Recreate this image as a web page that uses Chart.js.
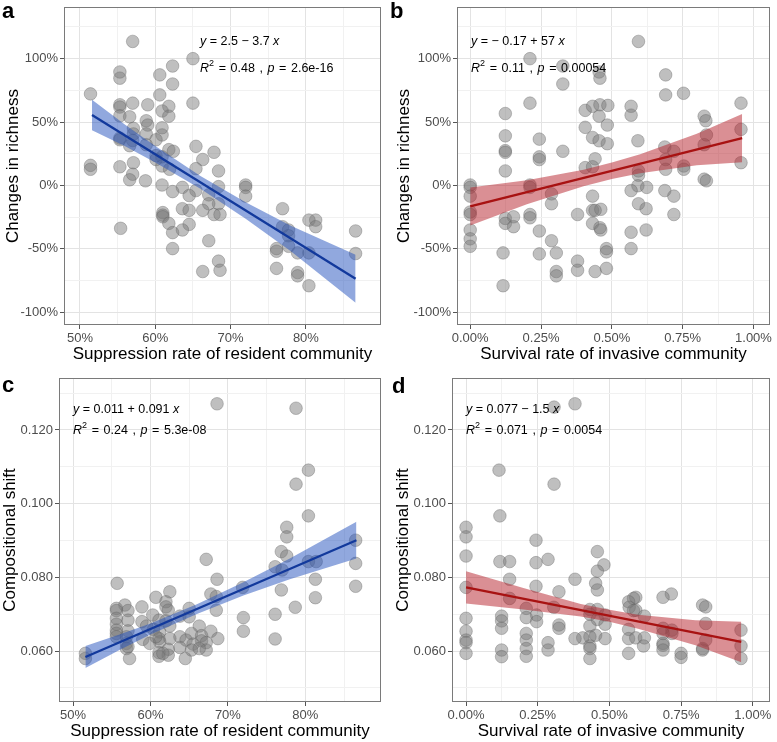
<!DOCTYPE html>
<html><head><meta charset="utf-8">
<script src="https://cdn.jsdelivr.net/npm/chart.js@4.4.1/dist/chart.umd.min.js"></script>
<style>
html,body{margin:0;padding:0;background:#fff;}
#wrap{position:relative;width:777px;height:742px;background:#fff;overflow:hidden;}
canvas{position:absolute;}
</style></head><body>
<div id="wrap">
<canvas id="pa" width="388" height="370" style="left:0;top:0"></canvas>
<canvas id="pb" width="389" height="370" style="left:388px;top:0"></canvas>
<canvas id="pc" width="388" height="372" style="left:0;top:370px"></canvas>
<canvas id="pd" width="389" height="372" style="left:388px;top:370px"></canvas>
</div>
<script>
// ---------- Panel a: suppression rate vs change in richness ----------
const suppA = [0.570,0.650,0.623,0.553,0.553,0.606,0.623,0.514,0.606,0.570,0.590,0.650,0.553,0.553,0.618,0.609,0.618,0.553,0.566,0.588,
0.590,0.571,0.609,0.571,0.588,0.609,0.553,0.553,0.601,0.570,0.566,0.588,0.654,0.618,0.624,0.678,0.601,0.609,0.601,0.663,
0.609,0.571,0.514,0.514,0.553,0.619,0.654,0.684,0.570,0.566,0.587,0.609,0.720,0.720,0.636,0.684,0.623,0.654,0.645,0.720,
0.671,0.684,0.671,0.636,0.645,0.663,0.769,0.678,0.686,0.610,0.610,0.610,0.813,0.804,0.618,0.645,0.813,0.769,0.554,0.636,
0.866,0.623,0.777,0.777,0.777,0.671,0.761,0.761,0.623,0.789,0.804,0.866,0.684,0.686,0.663,0.761,0.789,0.789,0.804];
const richA = [1.136,1.000,0.942,0.895,0.846,0.872,0.800,0.722,0.714,0.649,0.636,0.649,0.636,0.618,0.624,0.587,0.546,0.549,0.541,0.510,
0.476,0.450,0.455,0.406,0.406,0.398,0.373,0.360,0.360,0.354,0.313,0.321,0.308,0.282,0.269,0.261,0.235,0.225,0.204,0.204,
0.153,0.179,0.158,0.127,0.147,0.127,0.132,0.114,0.088,0.044,0.036,0.003,0.003,-0.016,-0.016,-0.010,-0.049,-0.041,-0.080,-0.085,
-0.075,-0.145,-0.145,-0.184,-0.197,-0.197,-0.184,-0.230,-0.230,-0.215,-0.235,-0.248,-0.274,-0.274,-0.300,-0.308,-0.326,-0.326,-0.339,-0.352,
-0.360,-0.373,-0.352,-0.398,-0.481,-0.437,-0.499,-0.520,-0.499,-0.533,-0.533,-0.538,-0.598,-0.670,-0.680,-0.655,-0.688,-0.714,-0.792];
const fitAx = [0.516, 0.866];
const fitAy = [0.555, -0.737];
const bandAx = [0.516, 0.56, 0.60, 0.66, 0.72, 0.78, 0.866];
const bandAlo = [0.435, 0.308, 0.180, -0.026, -0.263, -0.519, -0.927];
const bandAhi = [0.675, 0.478, 0.310, 0.074, -0.133, -0.319, -0.547];

// ---------- Panel b: survival rate vs change in richness ----------
const survB = [0.594,0.211,0.327,0.455,0.458,0.690,0.327,0.690,0.753,0.211,0.956,0.406,0.432,0.458,0.486,0.568,0.568,0.124,0.455,0.826,
0.832,0.484,0.406,0.956,0.124,0.834,0.432,0.244,0.455,0.592,0.484,0.826,0.687,0.124,0.327,0.719,0.124,0.244,0.244,0.441,
0.690,0.406,0.432,0.754,0.754,0.690,0.594,0.124,0.594,0.956,0.826,0.834,0.000,0.000,0.211,0.211,0.592,0.623,0.568,0.687,
0.000,0.287,0.719,0.432,0.287,0.594,0.432,0.461,0.441,0.621,0.000,0.000,0.211,0.211,0.379,0.719,0.124,0.153,0.124,0.153,
0.432,0.458,0.461,0.000,0.244,0.621,0.568,0.000,0.287,0.000,0.568,0.481,0.481,0.116,0.244,0.304,0.379,0.379,0.441,0.481,
0.304,0.304,0.116];
const richB = [1.136,1.000,0.942,0.895,0.846,0.872,0.800,0.714,0.727,0.649,0.649,0.592,0.624,0.636,0.631,0.624,0.554,0.567,0.546,0.546,
0.510,0.476,0.458,0.442,0.391,0.398,0.378,0.365,0.352,0.352,0.329,0.321,0.303,0.274,0.269,0.269,0.261,0.225,0.204,0.210,
0.204,0.140,0.147,0.153,0.127,0.127,0.114,0.114,0.080,0.179,0.049,0.036,0.003,-0.016,0.003,-0.016,-0.003,-0.016,-0.041,-0.041,
-0.085,-0.067,-0.085,-0.085,-0.145,-0.145,-0.197,-0.189,-0.197,-0.184,-0.210,-0.230,-0.230,-0.256,-0.230,-0.230,-0.261,-0.248,-0.300,-0.326,
-0.300,-0.334,-0.352,-0.352,-0.360,-0.352,-0.370,-0.422,-0.437,-0.481,-0.499,-0.499,-0.525,-0.533,-0.541,-0.533,-0.598,-0.670,-0.680,-0.655,
-0.680,-0.714,-0.792];
const fitBx = [0, 0.96];
const fitBy = [-0.166, 0.373];
const bandBx = [0, 0.2, 0.4, 0.5, 0.6, 0.8, 0.96];
const bandBlo = [-0.316, -0.149, -0.006, 0.050, 0.096, 0.158, 0.183];
const bandBhi = [-0.016, 0.041, 0.124, 0.180, 0.246, 0.408, 0.563];

// ---------- Panel c: suppression rate vs compositional shift ----------
const suppC = [0.686,0.788,0.804,0.788,0.804,0.776,0.776,0.865,0.769,0.776,0.672,0.804,0.814,0.865,0.761,0.770,0.686,0.813,0.557,0.865,
0.719,0.769,0.625,0.678,0.685,0.813,0.607,0.620,0.567,0.620,0.589,0.787,0.556,0.556,0.571,0.685,0.650,0.623,0.603,0.638,
0.650,0.720,0.761,0.556,0.571,0.589,0.611,0.620,0.556,0.663,0.595,0.625,0.604,0.556,0.571,0.720,0.678,0.612,0.556,0.653,
0.666,0.556,0.569,0.638,0.611,0.625,0.687,0.761,0.590,0.646,0.666,0.569,0.655,0.672,0.612,0.638,0.569,0.623,0.611,0.653,
0.672,0.663,0.623,0.645,0.573,0.516,0.516,0.611,0.616,0.571,0.599,0.607];
const shiftC = [0.1271,0.1259,0.1091,0.1053,0.0967,0.0936,0.0910,0.0901,0.0870,0.0858,0.0849,0.0843,0.0843,0.0838,0.0829,0.0820,0.0795,0.0795,0.0784,0.0776,
0.0773,0.0766,0.0761,0.0755,0.0748,0.0745,0.0746,0.0734,0.0725,0.0720,0.0720,0.0719,0.0716,0.0710,0.0710,0.0711,0.0716,0.0711,0.0698,0.0695,
0.0693,0.0691,0.0700,0.0689,0.0684,0.0680,0.0684,0.0682,0.0673,0.0668,0.0668,0.0668,0.0659,0.0657,0.0655,0.0654,0.0654,0.0652,0.0648,0.0648,
0.0642,0.0639,0.0639,0.0639,0.0634,0.0634,0.0634,0.0633,0.0632,0.0630,0.0628,0.0621,0.0619,0.0623,0.0625,0.0610,0.0607,0.0605,0.0596,0.0603,
0.0603,0.0607,0.0589,0.0580,0.0580,0.0594,0.0580,0.0586,0.0594,0.0612,0.0621,0.0639];
const fitCx = [0.516, 0.866];
const fitCy = [0.0584, 0.0901];
const bandCx = [0.516, 0.56, 0.60, 0.66, 0.72, 0.78, 0.866];
const bandClo = [0.0554, 0.0603, 0.0645, 0.0701, 0.0751, 0.0795, 0.0851];
const bandChi = [0.0614, 0.0645, 0.0675, 0.0727, 0.0787, 0.0851, 0.0951];

// ---------- Panel d: survival rate vs compositional shift ----------
const survD = [0.380,0.307,0.115,0.307,0.118,0.000,0.000,0.244,0.000,0.458,0.481,0.118,0.152,0.244,0.286,0.458,0.152,0.380,0.452,0.244,
0.000,0.458,0.324,0.716,0.687,0.592,0.584,0.152,0.567,0.825,0.836,0.306,0.210,0.432,0.458,0.569,0.592,0.584,0.246,0.210,
0.124,0.000,0.432,0.485,0.124,0.246,0.458,0.622,0.836,0.485,0.324,0.324,0.124,0.432,0.567,0.687,0.718,0.718,0.687,0.000,
0.959,0.452,0.432,0.407,0.380,0.485,0.567,0.592,0.622,0.210,0.210,0.000,0.000,0.836,0.286,0.687,0.687,0.619,0.432,0.959,
0.210,0.124,0.286,0.432,0.825,0.687,0.000,0.567,0.750,0.750,0.124,0.210,0.432,0.959,0.825];
const shiftD = [0.1271,0.1262,0.1091,0.1053,0.0967,0.0936,0.0910,0.0901,0.0858,0.0870,0.0834,0.0843,0.0843,0.0840,0.0849,0.0817,0.0795,0.0795,0.0784,0.0776,
0.0773,0.0766,0.0761,0.0755,0.0746,0.0746,0.0743,0.0743,0.0734,0.0725,0.0720,0.0719,0.0716,0.0713,0.0713,0.0719,0.0711,0.0710,0.0698,0.0691,
0.0695,0.0689,0.0700,0.0698,0.0682,0.0680,0.0686,0.0695,0.0675,0.0673,0.0671,0.0662,0.0662,0.0668,0.0659,0.0662,0.0657,0.0648,0.0648,0.0654,
0.0657,0.0643,0.0639,0.0636,0.0634,0.0634,0.0634,0.0636,0.0636,0.0648,0.0630,0.0630,0.0623,0.0630,0.0623,0.0621,0.0616,0.0614,0.0614,0.0614,
0.0607,0.0603,0.0603,0.0607,0.0603,0.0603,0.0594,0.0594,0.0594,0.0583,0.0585,0.0586,0.0580,0.0580,0.0607];
const fitDx = [0, 0.96];
const fitDy = [0.0773, 0.0625];
const bandDx = [0, 0.2, 0.4, 0.5, 0.6, 0.8, 0.96];
const bandDlo = [0.0729, 0.0713, 0.0694, 0.0680, 0.0661, 0.0616, 0.0570];
const bandDhi = [0.0817, 0.0771, 0.0728, 0.0712, 0.0699, 0.0684, 0.0680];

// ---------- Tick values and labels ----------
const suppTicks = [0.50, 0.55, 0.60, 0.65, 0.70, 0.75, 0.80, 0.85];
const suppLabels = ['50%', '', '60%', '', '70%', '', '80%', ''];
const survTicks = [0, 0.125, 0.25, 0.375, 0.5, 0.625, 0.75, 0.875, 1.0];
const survLabels = ['0.00%', '', '0.25%', '', '0.50%', '', '0.75%', '', '1.00%'];
const richTicks = [-1.0, -0.75, -0.5, -0.25, 0, 0.25, 0.5, 0.75, 1.0, 1.25];
const richLabels = ['-100%', '', '-50%', '', '0%', '', '50%', '', '100%', ''];
const shiftTicks = [0.05, 0.06, 0.07, 0.08, 0.09, 0.10, 0.11, 0.12, 0.13];
const shiftLabels = ['', '0.060', '', '0.080', '', '0.100', '', '0.120', ''];

const FONT = "'Liberation Sans', Arial, Helvetica, sans-serif";
Chart.defaults.font.family = FONT;

const BLUE_LINE = '#12399c', BLUE_BAND = 'rgba(35,82,190,0.50)';
const RED_LINE = '#a81212', RED_BAND = 'rgba(182,32,42,0.50)';

const decoPlugin = {
  id: 'deco',
  afterDatasetsDraw(chart) {
    const o = chart.options.plugins.deco;
    const ctx = chart.ctx, a = chart.chartArea;
    ctx.save();
    // panel border
    ctx.strokeStyle = '#7a7a7a';
    ctx.lineWidth = 1;
    ctx.strokeRect(Math.round(a.left) + 0.5, Math.round(a.top) + 0.5,
      Math.round(a.right - a.left) - 1, Math.round(a.bottom - a.top) - 1);
    // annotations (equation and statistics), spaces drawn with the given width
    ctx.fillStyle = '#000';
    ctx.textBaseline = 'middle';
    ctx.textAlign = 'left';
    o.lines.forEach((parts, li) => {
      let cx = o.annX;
      const cy = o.annY[li];
      const spaceW = li === 0 ? 3.5 : 4.6;
      parts.forEach(p => {
        const fs = p.sup ? 9 : 12.5;
        ctx.font = (p.i ? 'italic ' : '') + fs + 'px ' + FONT;
        const words = p.t.split(' ');
        words.forEach((w, wi) => {
          if (wi > 0) cx += spaceW;
          if (w.length) {
            ctx.fillText(w, cx, p.sup ? cy - 5 : cy);
            cx += ctx.measureText(w).width;
          }
        });
      });
    });
    // panel letter
    ctx.font = 'bold 22px ' + FONT;
    ctx.textBaseline = 'alphabetic';
    ctx.fillText(o.letter, o.letterX, o.letterY);
    ctx.restore();
  }
};

function pts(xs, ys) { return xs.map((x, i) => ({x: x, y: ys[i]})); }

function makePanel(id, c) {
  const cv = document.getElementById(id);
  const W = cv.width, H = cv.height;
  const axis = (ticks, labels, min, max, title, titlePad, isX) => ({
    type: 'linear', min: min, max: max,
    afterBuildTicks: s => { s.ticks = ticks.map(v => ({value: v})); },
    afterFit: s => {
      s.paddingTop = 0; s.paddingBottom = 0; s.paddingLeft = 0; s.paddingRight = 0;
      if (isX) s.height = 40; else s.width = c.area.left;
    },
    border: {display: false},
    grid: {
      color: ctx => labels[ctx.index] !== '' ? '#e3e3e3' : '#f1f1f1',
      lineWidth: 1,
      tickLength: 4,
      tickColor: ctx => labels[ctx.index] !== '' ? '#555' : 'rgba(0,0,0,0)',
      tickWidth: 1
    },
    ticks: {
      autoSkip: false, maxRotation: 0, minRotation: 0,
      padding: 2,
      color: '#4d4d4d',
      font: {size: 13, family: FONT},
      callback: (v, i) => labels[i]
    },
    title: {
      display: true, text: title, color: '#000',
      font: {size: 17, family: FONT},
      padding: isX ? {top: 0, bottom: titlePad} : {top: titlePad, bottom: 0}
    }
  });
  return new Chart(cv, {
    type: 'line',
    data: {
      datasets: [
        {data: pts(c.fitX, c.fitY), borderColor: c.lineColor, borderWidth: 2.3, pointRadius: 0, fill: false, order: 0, tension: 0},
        {data: pts(c.bandX, c.bandHi), borderColor: 'rgba(0,0,0,0)', borderWidth: 0, pointRadius: 0,
         fill: '+1', backgroundColor: c.bandColor, order: 1, tension: 0},
        {data: pts(c.bandX, c.bandLo), borderColor: 'rgba(0,0,0,0)', borderWidth: 0, pointRadius: 0, fill: false, order: 2, tension: 0},
        {data: pts(c.xs, c.ys), showLine: false, pointRadius: 6.3, pointHoverRadius: 6.3,
         backgroundColor: 'rgba(122,122,122,0.48)', borderColor: 'rgba(95,95,95,0.45)', borderWidth: 0.8, order: 3}
      ]
    },
    options: {
      responsive: false, animation: false, devicePixelRatio: 1,
      layout: {padding: {left: 0, top: c.area.top, right: W - c.area.right, bottom: H - c.area.bottom - 40}},
      plugins: {
        legend: {display: false}, tooltip: {enabled: false},
        deco: c.deco
      },
      scales: {
        x: axis(c.xTicks, c.xLabels, c.xMin, c.xMax, c.xTitle, 0, true),
        y: axis(c.yTicks, c.yLabels, c.yMin, c.yMax, c.yTitle, c.yTitlePad, false)
      }
    },
    plugins: [decoPlugin]
  });
}

makePanel('pa', {
  xs: suppA, ys: richA, fitX: fitAx, fitY: fitAy, bandX: bandAx, bandLo: bandAlo, bandHi: bandAhi,
  lineColor: BLUE_LINE, bandColor: BLUE_BAND,
  xTicks: suppTicks, xLabels: suppLabels, xMin: 0.4788, xMax: 0.8996,
  yTicks: richTicks, yLabels: richLabels, yMin: -1.102, yMax: 1.407,
  xTitle: 'Suppression rate of resident community', yTitle: 'Changes in richness', yTitlePad: 2.8,
  area: {left: 64, top: 2, right: 382, bottom: 325},
  deco: {letter: 'a', letterX: 2, letterY: 18, annX: 200, annY: [41.7, 68.3],
    lines: [[{t: 'y', i: true}, {t: ' = 2.5 \u2212 3.7 '}, {t: 'x', i: true}],
            [{t: 'R', i: true}, {t: '2', sup: true}, {t: ' = 0.48 , '}, {t: 'p', i: true}, {t: ' = 2.6e-16'}]]}
});
makePanel('pb', {
  xs: survB, ys: richB, fitX: fitBx, fitY: fitBy, bandX: bandBx, bandLo: bandBlo, bandHi: bandBhi,
  lineColor: RED_LINE, bandColor: RED_BAND,
  xTicks: survTicks, xLabels: survLabels, xMin: -0.0466, xMax: 1.058,
  yTicks: richTicks, yLabels: richLabels, yMin: -1.102, yMax: 1.407,
  xTitle: 'Survival rate of invasive community', yTitle: 'Changes in richness', yTitlePad: 5.8,
  area: {left: 69, top: 2, right: 387, bottom: 325},
  deco: {letter: 'b', letterX: 2, letterY: 18, annX: 83, annY: [41.7, 68.3],
    lines: [[{t: 'y', i: true}, {t: ' = \u2212 0.17 + 57 '}, {t: 'x', i: true}],
            [{t: 'R', i: true}, {t: '2', sup: true}, {t: ' = 0.11 , '}, {t: 'p', i: true}, {t: ' = 0.00054'}]]}
});
makePanel('pc', {
  xs: suppC, ys: shiftC, fitX: fitCx, fitY: fitCy, bandX: bandCx, bandLo: bandClo, bandHi: bandChi,
  lineColor: BLUE_LINE, bandColor: BLUE_BAND,
  xTicks: suppTicks, xLabels: suppLabels, xMin: 0.4819, xMax: 0.8976,
  yTicks: shiftTicks, yLabels: shiftLabels, yMin: 0.0462, yMax: 0.1341,
  xTitle: 'Suppression rate of resident community', yTitle: 'Compositional shift', yTitlePad: 0,
  area: {left: 59, top: 8, right: 382, bottom: 332},
  deco: {letter: 'c', letterX: 2, letterY: 22, annX: 73, annY: [40, 61],
    lines: [[{t: 'y', i: true}, {t: ' = 0.011 + 0.091 '}, {t: 'x', i: true}],
            [{t: 'R', i: true}, {t: '2', sup: true}, {t: ' = 0.24 , '}, {t: 'p', i: true}, {t: ' = 5.3e-08'}]]}
});
makePanel('pd', {
  xs: survD, ys: shiftD, fitX: fitDx, fitY: fitDy, bandX: bandDx, bandLo: bandDlo, bandHi: bandDhi,
  lineColor: RED_LINE, bandColor: RED_BAND,
  xTicks: survTicks, xLabels: survLabels, xMin: -0.049, xMax: 1.0598,
  yTicks: shiftTicks, yLabels: shiftLabels, yMin: 0.0462, yMax: 0.1341,
  xTitle: 'Survival rate of invasive community', yTitle: 'Compositional shift', yTitlePad: 4.8,
  area: {left: 64, top: 8, right: 387, bottom: 332},
  deco: {letter: 'd', letterX: 4, letterY: 23, annX: 78, annY: [40, 61],
    lines: [[{t: 'y', i: true}, {t: ' = 0.077 \u2212 1.5 '}, {t: 'x', i: true}],
            [{t: 'R', i: true}, {t: '2', sup: true}, {t: ' = 0.071 , '}, {t: 'p', i: true}, {t: ' = 0.0054'}]]}
});
</script>
</body></html>
